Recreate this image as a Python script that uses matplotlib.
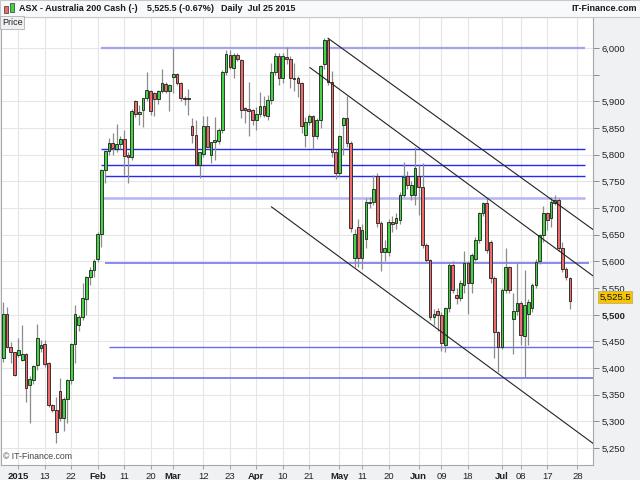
import matplotlib
matplotlib.use('Agg')
import matplotlib.pyplot as plt
import matplotlib.transforms as mtransforms
from matplotlib.patches import Rectangle
import numpy as np

plt.rcParams['font.family'] = ['Liberation Sans', 'DejaVu Sans']

# Daily OHLC, late Dec 2014 to Jul 2015 (x = trading day, Jan 2 = 0)
FIRST_DAY = -4
opens = [5418, 5502, 5439, 5429, 5424, 5415, 5427, 5368, 5377, 5406,
         5437, 5444, 5410, 5331, 5321, 5356, 5307, 5341, 5377, 5445,
         5481, 5495, 5529, 5570, 5584, 5604, 5651, 5771, 5806, 5821,
         5810, 5820, 5829, 5799, 5796, 5901, 5876, 5884, 5906, 5919,
         5915, 5904, 5919, 5933, 5919, 5945, 5951, 5934, 5907, 5907,
         5854, 5837, 5781, 5802, 5854, 5799, 5824, 5826, 5847, 5955,
         5987, 5962, 5987, 5977, 5887, 5885, 5883, 5865, 5877, 5891,
         5873, 5902, 5954, 5984, 5943, 5983, 5980, 5944, 5943, 5934,
         5836, 5862, 5872, 5834, 5864, 5970, 6015, 5937, 5804, 5765,
         5855, 5868, 5822, 5606, 5665, 5606, 5641, 5709, 5712, 5759,
         5672, 5618, 5618, 5674, 5672, 5677, 5724, 5759, 5724, 5724,
         5759, 5740, 5631, 5602, 5496, 5507, 5499, 5443, 5512, 5593,
         5537, 5531, 5556, 5596, 5559, 5605, 5640, 5690, 5709, 5637,
         5568, 5468, 5440, 5546, 5589, 5491, 5506, 5522, 5460, 5502,
         5512, 5556, 5601, 5649, 5690, 5681, 5710, 5715, 5624, 5585,
         5568]
highs = [5524, 5515, 5449, 5430, 5456, 5481, 5428, 5384, 5406, 5482,
         5452, 5453, 5412, 5333, 5346, 5381, 5345, 5380, 5447, 5518,
         5500, 5559, 5572, 5590, 5604, 5655, 5773, 5808, 5831, 5840,
         5857, 5835, 5846, 5805, 5886, 5902, 5893, 5906, 5954, 5921,
         5918, 5921, 5960, 5936, 5933, 5999, 5953, 5936, 5909, 5923,
         5868, 5864, 5804, 5873, 5873, 5823, 5870, 5850, 5958, 5996,
         5996, 5990, 5990, 5980, 5890, 5937, 5885, 5890, 5918, 5909,
         5911, 5971, 5990, 5990, 5990, 6002, 5985, 5971, 5948, 5936,
         5870, 5877, 5874, 5868, 5968, 6018, 6018, 5957, 5810, 5836,
         5870, 5910, 5825, 5660, 5680, 5670, 5718, 5720, 5762, 5765,
         5675, 5640, 5680, 5685, 5690, 5730, 5787, 5770, 5750, 5815,
         5781, 5784, 5635, 5605, 5510, 5512, 5505, 5515, 5598, 5600,
         5550, 5565, 5620, 5600, 5615, 5645, 5693, 5712, 5718, 5640,
         5572, 5470, 5550, 5624, 5592, 5540, 5599, 5525, 5584, 5530,
         5560, 5605, 5652, 5703, 5692, 5721, 5724, 5718, 5637, 5590,
         5570]
lows = [5412, 5437, 5409, 5384, 5420, 5413, 5337, 5296, 5370, 5396,
        5430, 5402, 5327, 5318, 5259, 5300, 5281, 5296, 5370, 5409,
        5470, 5490, 5500, 5555, 5570, 5598, 5627, 5746, 5800, 5800,
        5805, 5810, 5761, 5746, 5790, 5870, 5856, 5852, 5900, 5874,
        5872, 5895, 5915, 5915, 5881, 5915, 5930, 5900, 5893, 5874,
        5822, 5781, 5757, 5795, 5815, 5784, 5790, 5820, 5840, 5950,
        5960, 5943, 5975, 5868, 5860, 5834, 5855, 5846, 5870, 5870,
        5865, 5895, 5950, 5930, 5935, 5970, 5925, 5920, 5908, 5840,
        5815, 5855, 5810, 5830, 5850, 5960, 5930, 5795, 5755, 5760,
        5800, 5815, 5655, 5590, 5590, 5585, 5625, 5700, 5705, 5665,
        5581, 5600, 5610, 5655, 5660, 5670, 5720, 5735, 5715, 5705,
        5687, 5625, 5599, 5490, 5480, 5470, 5431, 5430, 5505, 5540,
        5520, 5525, 5540, 5502, 5540, 5600, 5635, 5685, 5615, 5560,
        5418, 5393, 5435, 5540, 5540, 5427, 5500, 5443, 5381, 5443,
        5505, 5550, 5595, 5637, 5659, 5665, 5705, 5620, 5580, 5565,
        5510]
closes = [5502, 5439, 5429, 5387, 5434, 5427, 5362, 5379, 5404, 5456,
          5443, 5408, 5331, 5321, 5279, 5307, 5342, 5377, 5445, 5502,
          5496, 5531, 5570, 5584, 5601, 5651, 5771, 5806, 5821, 5812,
          5820, 5829, 5798, 5796, 5881, 5876, 5879, 5906, 5921, 5882,
          5904, 5919, 5934, 5919, 5931, 5951, 5934, 5906, 5905, 5904,
          5837, 5781, 5804, 5854, 5815, 5823, 5827, 5847, 5955, 5989,
          5964, 5987, 5979, 5884, 5883, 5881, 5865, 5877, 5891, 5874,
          5902, 5954, 5984, 5943, 5984, 5980, 5943, 5942, 5934, 5854,
          5862, 5872, 5834, 5865, 5966, 6015, 5937, 5804, 5765, 5834,
          5868, 5822, 5662, 5652, 5606, 5659, 5712, 5712, 5735, 5672,
          5618, 5624, 5674, 5670, 5682, 5724, 5758, 5743, 5743, 5774,
          5740, 5631, 5602, 5496, 5502, 5499, 5446, 5512, 5593, 5546,
          5531, 5559, 5596, 5559, 5612, 5640, 5690, 5709, 5621, 5568,
          5468, 5440, 5546, 5589, 5546, 5507, 5522, 5462, 5518, 5524,
          5556, 5599, 5649, 5690, 5677, 5712, 5715, 5624, 5585, 5571,
          5525.5]

# x-axis labels and the trading day they sit on
tick_labels = ['2015', '13', '22', 'Feb', '11', '20', 'Mar', '12', '23', 'Apr',
               '10', '21', 'May', '11', '20', 'Jun', '09', '18', 'Jul', '08',
               '17', '28']
tick_days = [0, 7, 14, 21, 28, 35, 41, 49, 56, 63,
             70, 77, 85, 91, 98, 106, 112, 119, 128, 133,
             140, 148]
month_labels = ['2015', 'Feb', 'Mar', 'Apr', 'May', 'Jun', 'Jul']

# horizontal support/resistance levels (price, first day, last day)
levels = [6000, 5811, 5781, 5759, 5718, 5597, 5440, 5382]
level_from = [22, 22, 22, 23, 22, 23, 24, 25]
level_to = [150, 150, 150, 150, 150, 151, 153, 153]

# falling channel lines (day, price) -> (day, price)
chan_x0 = [82.0, 77.2, 67.0]
chan_y0 = [6018, 5963, 5702]
chan_x1 = [153.0, 153.0, 153.0]
chan_y1 = [5655, 5568, 5254]

last_price = '5,525.5'

GREEN = '#42d442'
RED = '#ef6b6b'

fig = plt.figure(figsize=(6.4, 4.8), dpi=100, facecolor='#f0f1f3')

# header strip
fig.patches.append(Rectangle((0, 1 - 17 / 480), 1, 17 / 480, transform=fig.transFigure,
                             facecolor='#f8f9fa', edgecolor='#c8c8c8', lw=0.8, zorder=0))
fig.patches.append(Rectangle((4 / 640, 1 - 13 / 480), 4 / 640, 7 / 480, transform=fig.transFigure,
                             facecolor=RED, edgecolor='#333', lw=0.5))
fig.patches.append(Rectangle((10 / 640, 1 - 12 / 480), 4 / 640, 9 / 480, transform=fig.transFigure,
                             facecolor=GREEN, edgecolor='#333', lw=0.5))
hy = 1 - 8.5 / 480
hkw = dict(fontsize=6.5, color='#1a1a1a', va='center', fontweight='bold')
fig.text(19 / 640, hy, 'ASX - Australia 200 Cash (-)', **hkw)
fig.text(147 / 640, hy, '5,525.5 (-0.67%)', **hkw)
fig.text(221 / 640, hy, 'Daily  Jul 25 2015', **hkw)
fig.text(637 / 640, hy, 'IT-Finance.com', ha='right', **hkw)

ax = fig.add_axes([1 / 640, 15 / 480, 592.3 / 640, 448 / 480])
ax.set_facecolor('white')
ax.set_xlim(-4.6, 152.2)
ax.set_ylim(5218, 6058)

# grid
yt = np.arange(5250, 6001, 50)
ax.set_yticks(yt)
ax.set_yticklabels(['' if v == 5950 else f'{v:,}' for v in yt])
ax.set_xticks(tick_days)
ax.set_xticklabels(tick_labels)
ax.grid(True, color='#e6e6e6', lw=0.8, zorder=0)
ax.set_axisbelow(True)

ax.yaxis.tick_right()
ax.tick_params(axis='y', length=4, width=0.7, color='#8a8a8a', pad=2,
               labelsize=6.8, labelcolor='#222222')
ax.tick_params(axis='x', length=3, width=0.7, color='#a0a0a0', pad=2,
               labelsize=6.8, labelcolor='#222222')
for lab in ax.get_xticklabels():
    if lab.get_text() in month_labels:
        lab.set_fontweight('bold')
for lab in ax.get_yticklabels():
    if lab.get_text() == '5,500':
        lab.set_fontweight('bold')
for sp in ax.spines.values():
    sp.set_color('#a8a8a8')
    sp.set_linewidth(0.8)

# horizontal levels
level_colors = ['#a4a4ee', '#2828f0', '#2828f0', '#2828f0', '#b4b4f4',
                '#6a6af0', '#6a6af0', '#7a7af0']
level_widths = [1.6, 1.0, 1.0, 1.0, 1.8, 1.1, 1.0, 1.3]
ax.hlines(levels, level_from, level_to, colors=level_colors, linewidths=level_widths,
          zorder=1)

# candles
x = np.arange(len(opens)) + FIRST_DAY
o = np.array(opens, dtype=float)
c = np.array(closes, dtype=float)
up = c >= o
ax.vlines(x, lows, highs, color='#8c8c8c', lw=0.9, zorder=2)
bottom = np.minimum(o, c)
height = np.maximum(np.abs(c - o), 1.2)
ax.bar(x, height, 0.72, bottom=bottom, color=np.where(up, GREEN, RED),
       edgecolor='#1e1e1e', linewidth=0.6, zorder=3)

# channel
for x0, y0, x1, y1 in zip(chan_x0, chan_y0, chan_x1, chan_y1):
    ax.plot([x0, x1], [y0, y1], color='#222222', lw=0.8, zorder=4)

# last price tag
trans = mtransforms.blended_transform_factory(ax.transAxes, ax.transData)
ax.text(1.01, 5533, last_price, transform=trans, fontsize=6.8, va='center', ha='left',
        color='#111111', clip_on=False,
        bbox=dict(boxstyle='square,pad=0.15', fc='#f6c500', ec='#c0b070', lw=0.6))

ax.text(0.004, 0.008, '\u00a9 IT-Finance.com', transform=ax.transAxes, fontsize=6.3,
        color='#444444', va='bottom', ha='left')

fig.text(2 / 640, 1 - 22.5 / 480, 'Price', fontsize=6.5, color='#222222', va='center',
         ha='left', bbox=dict(boxstyle='square,pad=0.2', fc='#eef0f2', ec='#b0b0b0', lw=0.6))

fig.savefig('out.png', dpi=100, facecolor=fig.get_facecolor())
